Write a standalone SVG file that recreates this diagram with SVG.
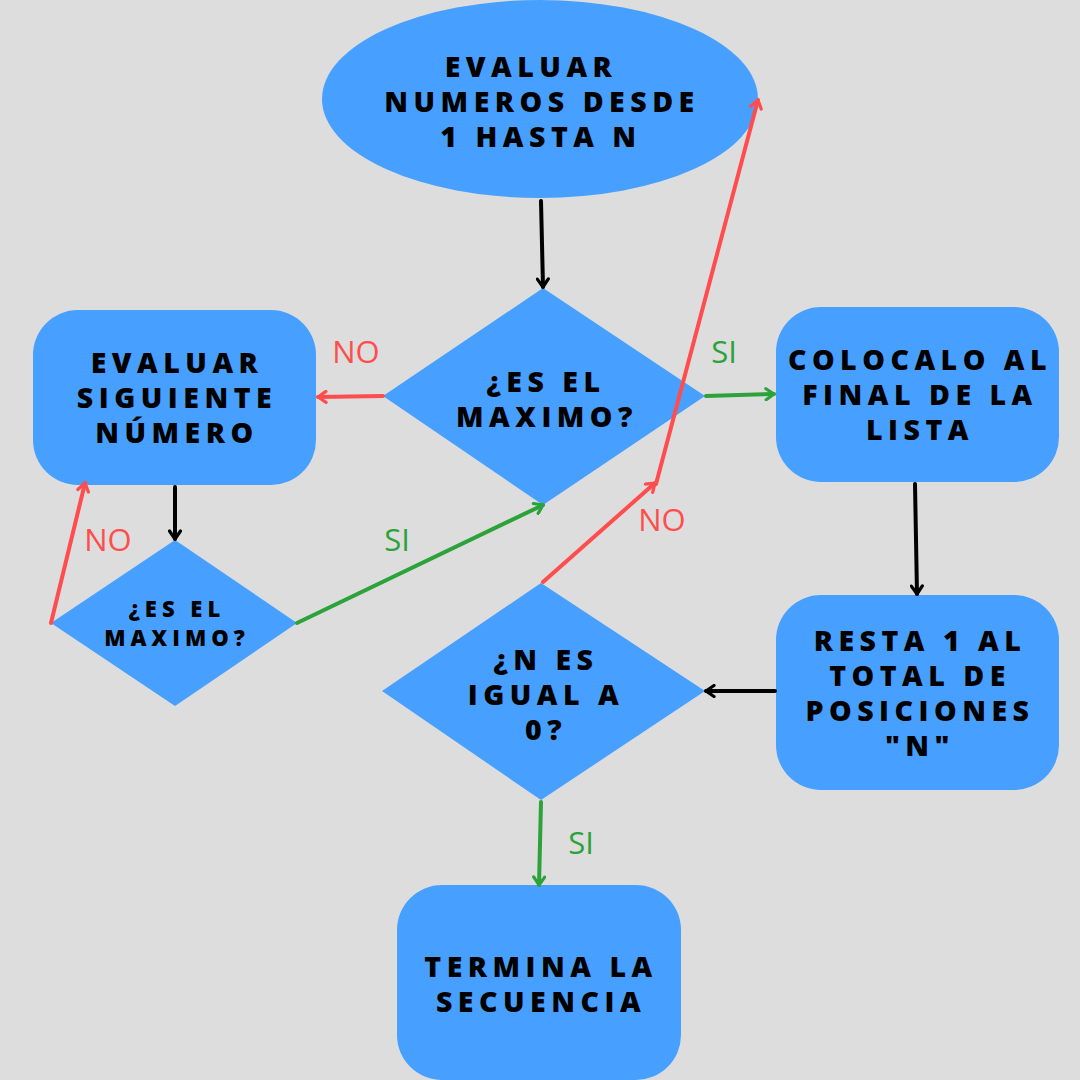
<svg xmlns="http://www.w3.org/2000/svg" width="1080" height="1080" viewBox="0 0 1080 1080">
<style>
.shape{fill:#47a0ff}
.t{font-family:"Open Sans","Liberation Sans",sans-serif;font-weight:800;fill:#000;text-anchor:middle;letter-spacing:5.5px;font-size:28.5px}
.ts{font-size:22px;letter-spacing:5px}
.lbl{font-family:"Open Sans","Liberation Sans",sans-serif;font-size:31px;text-anchor:middle}
.red{stroke:#ff4d4d}
.grn{stroke:#2ba33a}
.blk{stroke:#000}
.c{fill:none;stroke-width:4;stroke-linecap:round}
</style>
<defs>
<marker id="ab" viewBox="0 0 14 14" refX="12" refY="7" markerWidth="14" markerHeight="14" markerUnits="userSpaceOnUse" orient="auto"><path d="M4,1.5 L12,7 L4,12.5" fill="none" stroke="#000" stroke-width="3.2" stroke-linecap="round" stroke-linejoin="round"/></marker>
<marker id="ar" viewBox="0 0 14 14" refX="12" refY="7" markerWidth="14" markerHeight="14" markerUnits="userSpaceOnUse" orient="auto"><path d="M4,1.5 L12,7 L4,12.5" fill="none" stroke="#ff4d4d" stroke-width="3.2" stroke-linecap="round" stroke-linejoin="round"/></marker>
<marker id="ag" viewBox="0 0 14 14" refX="12" refY="7" markerWidth="14" markerHeight="14" markerUnits="userSpaceOnUse" orient="auto"><path d="M4,1.5 L12,7 L4,12.5" fill="none" stroke="#2ba33a" stroke-width="3.2" stroke-linecap="round" stroke-linejoin="round"/></marker>
</defs>
<rect width="1080" height="1080" fill="#dddddd"/>

<g id="start">
<ellipse class="shape" cx="540" cy="99" rx="218" ry="99"/>
<text class="t" x="531" y="77">EVALUAR</text>
<text class="t" x="542" y="112">NUMEROS DESDE</text>
<text class="t" x="541" y="147">1 HASTA N</text>
</g>

<g id="decision1">
<polygon class="shape" points="543,288 705,396 543,505 383,396"/>
<text class="t" x="546" y="392">¿ES EL</text>
<text class="t" x="547" y="427">MAXIMO?</text>
</g>

<g id="next">
<rect class="shape" x="33" y="310" width="283" height="175" rx="45"/>
<text class="t" x="177" y="373">EVALUAR</text>
<text class="t" x="177" y="408">SIGUIENTE</text>
<text class="t" x="177" y="443">NÚMERO</text>
</g>

<g id="place">
<rect class="shape" x="776" y="307" width="283" height="175" rx="45"/>
<text class="t" x="920" y="370">COLOCALO AL</text>
<text class="t" x="920" y="405">FINAL DE LA</text>
<text class="t" x="920" y="440">LISTA</text>
</g>

<g id="subtract">
<rect class="shape" x="776" y="595" width="283" height="195" rx="45"/>
<text class="t" x="920" y="651">RESTA 1 AL</text>
<text class="t" x="920" y="686">TOTAL DE</text>
<text class="t" x="920" y="721">POSICIONES</text>
<text class="t" x="920" y="756">"N"</text>
</g>

<g id="decision3">
<polygon class="shape" points="541,583 705,691 541,800 382,691"/>
<text class="t" x="546" y="670">¿N ES</text>
<text class="t" x="546" y="705">IGUAL A</text>
<text class="t" x="546" y="740">0?</text>
</g>

<g id="end">
<rect class="shape" x="397" y="885" width="284" height="195" rx="45"/>
<text class="t" x="541" y="977">TERMINA LA</text>
<text class="t" x="541" y="1012">SECUENCIA</text>
</g>

<g id="decision2">
<polygon class="shape" points="175,540 297,623 175,706 51,623"/>
<text class="t ts" x="177" y="617">¿ES EL</text>
<text class="t ts" x="177" y="646">MAXIMO?</text>
</g>

<g id="connectors">
<line class="c blk" x1="541" y1="201" x2="543" y2="287" marker-end="url(#ab)"/>
<line class="c red" x1="383" y1="396" x2="318" y2="397" marker-end="url(#ar)"/>
<line class="c grn" x1="706" y1="396" x2="774" y2="394" marker-end="url(#ag)"/>
<line class="c blk" x1="915" y1="484" x2="917" y2="594" marker-end="url(#ab)"/>
<line class="c blk" x1="775" y1="691" x2="706" y2="691" marker-end="url(#ab)"/>
<line class="c grn" x1="541" y1="802" x2="539" y2="885" marker-end="url(#ag)"/>
<line class="c blk" x1="175" y1="487" x2="175" y2="539" marker-end="url(#ab)"/>
<line class="c red" x1="51" y1="623" x2="85" y2="483" marker-end="url(#ar)"/>
<line class="c grn" x1="297" y1="623" x2="543" y2="505" marker-end="url(#ag)"/>
<line class="c red" x1="543" y1="582" x2="655" y2="483" marker-end="url(#ar)"/>
<line class="c red" x1="656" y1="484" x2="758" y2="100" marker-end="url(#ar)"/>
<text class="lbl" x="356" y="363" fill="#ff4d4d">NO</text>
<text class="lbl" x="724" y="363" fill="#2ba33a">SI</text>
<text class="lbl" x="108" y="551" fill="#ff4d4d">NO</text>
<text class="lbl" x="397" y="551" fill="#2ba33a">SI</text>
<text class="lbl" x="662" y="531" fill="#ff4d4d">NO</text>
<text class="lbl" x="581" y="854" fill="#2ba33a">SI</text>
</g>
</svg>
